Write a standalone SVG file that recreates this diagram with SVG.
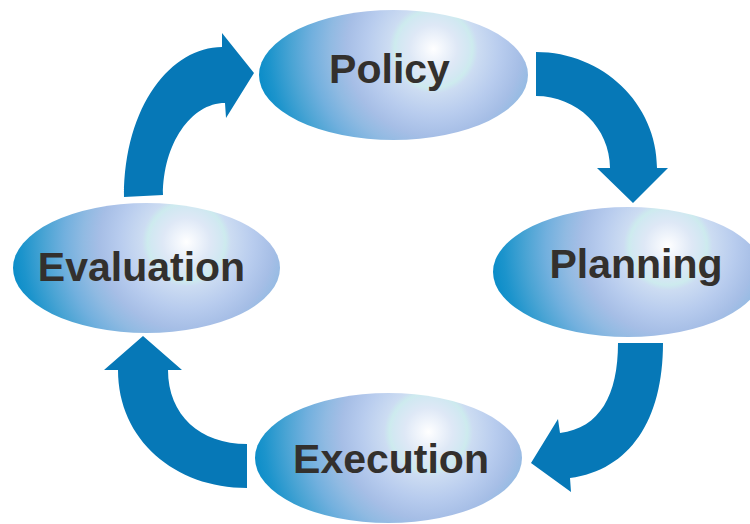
<svg xmlns="http://www.w3.org/2000/svg" width="750" height="524" viewBox="0 0 750 524">
<defs>
<radialGradient id="glow" gradientUnits="userSpaceOnUse" cx="40" cy="-26" r="185" fx="40" fy="-26">
<stop offset="0" stop-color="#FFFFFF"/>
<stop offset="0.05" stop-color="#F2F6FC"/>
<stop offset="0.13" stop-color="#DEE8F6"/>
<stop offset="0.19" stop-color="#D2E8F2"/>
<stop offset="0.21" stop-color="#CDEBEE"/>
<stop offset="0.24" stop-color="#CCDCF2"/>
<stop offset="0.36" stop-color="#B8CCEE"/>
<stop offset="0.47" stop-color="#A6BEE6"/>
<stop offset="0.56" stop-color="#90BAE2"/>
<stop offset="0.66" stop-color="#72B0DE"/>
<stop offset="0.77" stop-color="#4AA4D4"/>
<stop offset="0.89" stop-color="#1C94CC"/>
<stop offset="1" stop-color="#0088C6"/>
</radialGradient>
</defs>
<style>
.arrow{fill:#0678B7;}
.node ellipse{fill:url(#glow);}
.node text{font-family:"Liberation Sans",Arial,sans-serif;font-weight:bold;font-size:41px;fill:#33302D;text-anchor:middle;}
</style>
<g id="connectors">
<path class="arrow" d="M124,197 C124,105 172,47 222,47 L222,33 L254,73 L226,118 L225,103 C191,103 163,144 163,195 Z"/>
<path class="arrow" d="M536,52 C603,52 657,104 657,168 L668,168 L633,203 L597,168 L610,168 C610,128 577,96 536,96 Z"/>
<path class="arrow" d="M663,343 C663,420 630,470 570,478 L571,492 L531,463 L558,419 L560,433 C600,428 618,395 618,343 Z"/>
<path class="arrow" d="M247,488 C175,488 118,440 118,370 L104,370 L143,336 L182,370 L168,370 C168,415 200,444 247,444 Z"/>
</g>
<g id="policy" class="node" transform="translate(393.5,75)">
<ellipse cx="0" cy="0" rx="134.5" ry="65"/>
<text x="-4" y="8">Policy</text>
</g>
<g id="planning" class="node" transform="translate(628,272)">
<ellipse cx="0" cy="0" rx="135" ry="65"/>
<text x="8" y="6">Planning</text>
</g>
<g id="execution" class="node" transform="translate(388.5,458)">
<ellipse cx="0" cy="0" rx="133.5" ry="65"/>
<text x="2.5" y="15">Execution</text>
</g>
<g id="evaluation" class="node" transform="translate(146.5,268)">
<ellipse cx="0" cy="0" rx="133.5" ry="65"/>
<text x="-5" y="13">Evaluation</text>
</g>
</svg>
